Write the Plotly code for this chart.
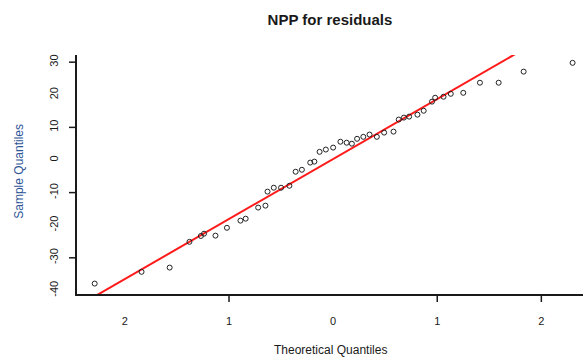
import plotly.graph_objects as go

# Theoretical quantiles
theoretical = [-2.29, -1.84, -1.57, -1.38, -1.27, -1.24, -1.13, -1.02, -0.89, -0.84,
               -0.72, -0.65, -0.63, -0.57, -0.50, -0.42, -0.36, -0.30, -0.22, -0.18,
               -0.13, -0.07, 0.00, 0.07, 0.13, 0.18, 0.23, 0.29, 0.35, 0.42,
               0.49, 0.58, 0.63, 0.68, 0.73, 0.81, 0.87, 0.95, 0.98, 1.06,
               1.13, 1.25, 1.41, 1.59, 1.83, 2.30]
# Sample quantiles (residuals)
sample = [-37.9, -34.3, -33.0, -25.1, -23.3, -22.6, -23.2, -20.8, -18.6, -18.0,
          -14.6, -14.0, -9.7, -8.5, -8.5, -7.9, -3.6, -3.0, -0.8, -0.5,
          2.5, 3.2, 3.8, 5.6, 5.3, 5.0, 6.5, 7.1, 7.8, 7.1,
          8.4, 8.7, 12.4, 13.0, 13.3, 13.9, 15.1, 17.9, 19.1, 19.4,
          20.3, 20.6, 23.7, 23.7, 27.1, 29.8]

# qqline
qq_intercept = 0.3
qq_slope = 18.4

x_range = [-2.46, 2.40]
y_range = [-41.1, 32.2]

x_label_vals = [-2, -1, 0, 1, 2]
x_label_text = ["2", "1", "0", "1", "2"]
x_tick_marks = [-1, 1, 2]
y_label_vals = [30, 20, 10, 0, -10, -20, -30, -40]
y_label_text = ["30", "20", "10", "0", "-10", "-20", "-30", "-40"]
y_tick_marks = [30, 10, -10, -30]

FONT = "Liberation Sans, Arial, sans-serif"
INK = "#1a1a1a"
TICK_LEN = 8

fig = go.Figure()

line_x = list(x_range)
line_y = [qq_intercept + qq_slope * v for v in line_x]
fig.add_trace(go.Scatter(x=line_x, y=line_y, mode="lines",
                         line=dict(color="#ff1a1a", width=2),
                         hoverinfo="skip", showlegend=False))

fig.add_trace(go.Scatter(x=theoretical, y=sample, mode="markers",
                         marker=dict(symbol="circle-open", size=5,
                                     color="#222222", line=dict(width=1)),
                         showlegend=False))

# tick marks (only at some of the labelled positions, as in the reference)
for v in x_tick_marks:
    fig.add_shape(type="line", xref="x", yref="paper",
                  x0=v, x1=v, ysizemode="pixel", yanchor=0,
                  y0=0, y1=-TICK_LEN, line=dict(color=INK, width=1.5))
for v in y_tick_marks:
    fig.add_shape(type="line", yref="y", xref="paper",
                  y0=v, y1=v, xsizemode="pixel", xanchor=0,
                  x0=0, x1=-TICK_LEN, line=dict(color=INK, width=1.5))

fig.update_layout(
    width=583, height=358,
    margin=dict(l=77, r=0, t=55, b=64),
    paper_bgcolor="white", plot_bgcolor="white",
    font=dict(family=FONT, color=INK, size=11),
    title=dict(text="<b>NPP for residuals</b>", x=0.5, xref="paper",
               y=0.944, yref="container", yanchor="middle",
               font=dict(family=FONT, size=15, color=INK)),
    xaxis=dict(range=x_range, showgrid=False, zeroline=False,
               showline=True, linecolor=INK, linewidth=1.5,
               tickmode="array", tickvals=x_label_vals, ticktext=x_label_text,
               ticks="", ticklabelstandoff=16,
               tickfont=dict(size=11, color=INK)),
    yaxis=dict(range=y_range, showgrid=False, zeroline=False,
               showline=True, linecolor=INK, linewidth=1.5,
               tickmode="array", tickvals=y_label_vals, ticktext=y_label_text,
               ticks="", tickangle=-90, ticklabelstandoff=13,
               tickfont=dict(size=11, color=INK)),
    annotations=[
        dict(text="Theoretical Quantiles", xref="paper", yref="paper",
             x=0.5, y=-0.234, yanchor="middle", xanchor="center",
             showarrow=False, font=dict(family=FONT, size=12, color=INK)),
        dict(text="Sample Quantiles", xref="paper", yref="paper",
             x=-0.115, y=0.515, xanchor="center", yanchor="middle",
             textangle=-90, showarrow=False,
             font=dict(family=FONT, size=12, color="#2f5597")),
    ],
)

fig.write_html("out.html")
